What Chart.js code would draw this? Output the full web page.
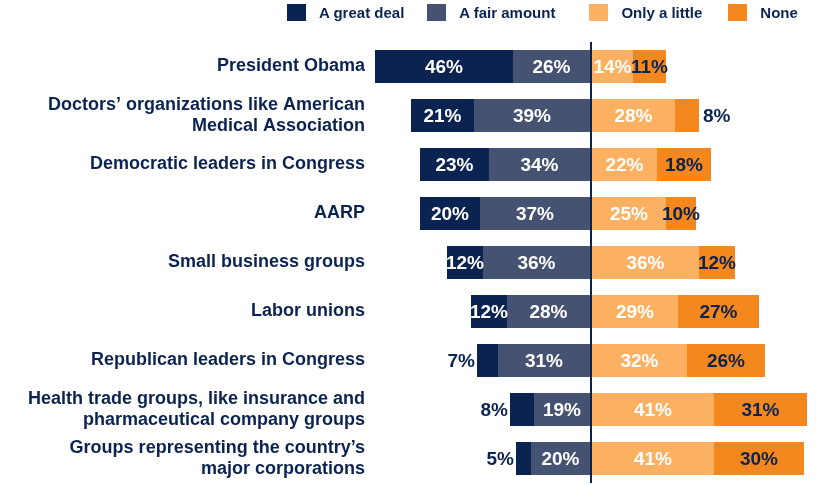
<!DOCTYPE html>
<html>
<head>
<meta charset="utf-8">
<script src="https://cdn.jsdelivr.net/npm/chart.js@4"></script>
<style>
  body { margin: 0; background: #fff; }
  .wrap { position: relative; width: 831px; height: 485px; }
  #myChartLegend { position: absolute; top: 4px; left: 287px; }
  #myChartLegend ul { list-style: none; margin: 0; padding: 0; display: flex; }
  #myChartLegend li {
    display: flex; align-items: center; height: 17px;
    font: bold 15px "Liberation Sans", Arial, sans-serif; color: #0b2350;
  }
  #myChartLegend li span { display: inline-block; width: 19px; height: 17px; margin-right: 13px; }
  #myChartLegend li:nth-child(1) { margin-right: 23px; }
  #myChartLegend li:nth-child(2) { margin-right: 34px; }
  #myChartLegend li:nth-child(3) { margin-right: 26px; }
</style>
</head>
<body>
<div class="wrap">
  <canvas id="myChart" width="831" height="485"></canvas>
  <div id="myChartLegend"></div>
</div>
<script>
const categories = [
  'President Obama',
  ['Doctors\u2019 organizations like American', 'Medical Association'],
  'Democratic leaders in Congress',
  'AARP',
  'Small business groups',
  'Labor unions',
  'Republican leaders in Congress',
  ['Health trade groups, like insurance and', 'pharmaceutical company groups'],
  ['Groups representing the country\u2019s', 'major corporations']
];

const greatDeal  = [46, 21, 23, 20, 12, 12, 7, 8, 5];
const fairAmount = [26, 39, 34, 37, 36, 28, 31, 19, 20];
const onlyLittle = [14, 28, 22, 25, 36, 29, 32, 41, 41];
const noneAtAll  = [11, 8, 18, 10, 12, 27, 26, 31, 30];

const navy = '#0b2350';
const font = '"Liberation Sans", Arial, sans-serif';

// left side is drawn as negative values, first dataset sits next to zero
const neg = (arr) => arr.map((v) => -v);

// percent labels on the segments, small ones go outside the bar
const barLabels = {
  id: 'barLabels',
  afterDatasetsDraw: function(chart) {
    const ctx = chart.ctx;
    ctx.save();
    ctx.font = 'bold 19px ' + font;
    ctx.textBaseline = 'middle';
    chart.data.datasets.forEach(function(ds, i) {
      const meta = chart.getDatasetMeta(i);
      meta.data.forEach(function(bar, j) {
        const raw = ds.data[j];
        const v = Math.abs(raw);
        let x;
        if (v < 10) {
          ctx.fillStyle = navy;
          if (raw < 0) {
            ctx.textAlign = 'right';
            x = Math.min(bar.x, bar.base) - 2;
          } else {
            ctx.textAlign = 'left';
            x = Math.max(bar.x, bar.base) + 4;
          }
        } else {
          ctx.fillStyle = ds.labelColor;
          ctx.textAlign = 'center';
          x = (bar.x + bar.base) / 2;
        }
        ctx.fillText(v + '%', x, bar.y + 1);
      });
    });
    ctx.restore();
  }
};

const ctx = document.querySelector('#myChart').getContext('2d');

const myChart = new Chart(ctx, {
  type: 'bar',
  plugins: [barLabels],
  data: {
    labels: categories,
    datasets: [
      { label: 'A fair amount', data: neg(fairAmount), backgroundColor: '#455272', labelColor: '#ffffff', legendOrder: 1 },
      { label: 'A great deal', data: neg(greatDeal), backgroundColor: '#0a2350', labelColor: '#ffffff', legendOrder: 0 },
      { label: 'Only a little', data: onlyLittle, backgroundColor: '#fbb161', labelColor: '#ffffff', legendOrder: 2 },
      { label: 'None', data: noneAtAll, backgroundColor: '#f5871f', labelColor: navy, legendOrder: 3 }
    ]
  },
  options: {
    indexAxis: 'y',
    responsive: false,
    animation: false,
    devicePixelRatio: 1,
    layout: { padding: { top: 42, bottom: 2, left: 0, right: 0 } },
    datasets: { bar: { categoryPercentage: 1, barPercentage: 0.673 } },
    plugins: {
      legend: { display: false },
      tooltip: { enabled: false }
    },
    scales: {
      x: {
        stacked: true,
        min: -72,
        max: 80,
        z: 1,
        border: { display: false },
        ticks: { display: false },
        afterBuildTicks: function(axis) { axis.ticks = [{ value: 0 }]; },
        afterFit: function(scale) { scale.height = 0; },
        grid: { drawTicks: false, color: navy, lineWidth: 2 }
      },
      y: {
        stacked: true,
        border: { display: false },
        grid: { display: false, drawTicks: false },
        afterFit: function(scale) {
          // two-line labels would otherwise push the plot area up
          scale.width = 375;
          scale.paddingTop = 0;
          scale.paddingBottom = 0;
        },
        ticks: {
          padding: 10,
          color: navy,
          font: { family: font, size: 18, weight: 'bold', lineHeight: 1.12 }
        }
      }
    }
  }
});

// html legend in the original order
const legendContainer = document.querySelector('#myChartLegend');
const items = myChart.data.datasets.slice().sort((a, b) => a.legendOrder - b.legendOrder);
let text = ['<ul>'];
for (let ds of items) {
  text.push('<li><span style="background:' + ds.backgroundColor + '"></span>' + ds.label + '</li>');
}
text.push('</ul>');
legendContainer.innerHTML = text.join('');
</script>
</body>
</html>
